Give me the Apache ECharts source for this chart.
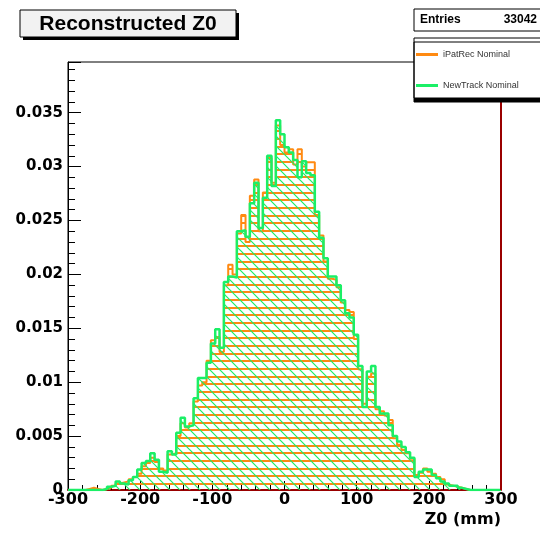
<!DOCTYPE html>
<html><head><meta charset="utf-8">
<script src="https://cdn.jsdelivr.net/npm/echarts@6/dist/echarts.min.js"></script>
<style>html,body{margin:0;padding:0;background:#fff}#c{width:540px;height:533px}</style>
</head><body><div id="c"></div>
<script>
// ---- data ----
const xMin = -300, xMax = 300, binWidth = 6;
const seriesNames = ['iPatRec Nominal', 'NewTrack Nominal'];
const iPatRecValues = [
  0,0,0,0,0.0001,0.0002,0.0001,0,0.0001,0.0002,
  0.0004,0.0006,0.0007,0.0008,0.0010,0.0012,0.0015,0.0022,0.0025,0.0030,
  0.0026,0.0020,0.0018,0.0033,0.0034,0.0050,0.0062,0.0058,0.0062,0.0082,
  0.0097,0.0100,0.0120,0.0139,0.0142,0.0128,0.0190,0.0209,0.0200,0.0238,
  0.0255,0.0230,0.0273,0.0288,0.0240,0.0276,0.0308,0.0285,0.0338,0.0320,
  0.0313,0.0316,0.0302,0.0316,0.0300,0.0304,0.0304,0.0255,0.0236,0.0212,
  0.0196,0.0195,0.0188,0.0174,0.0167,0.0165,0.0140,0.0112,0.0080,0.0105,
  0.0108,0.0075,0.0073,0.0069,0.0065,0.0048,0.0042,0.0037,0.0034,0.0029,
  0.0014,0.0016,0.0020,0.0017,0.0015,0.0012,0.0010,0.0005,0.0004,0.0003,
  0.0002,0.0001,0,0,0,0,0,0,0,0
];
const newTrackValues = [
  0,0,0,0,0,0,0,0,0.0001,0.0003,
  0.0004,0.0008,0.0006,0.0005,0.0009,0.0012,0.0019,0.0025,0.0027,0.0034,
  0.0028,0.0017,0.0016,0.0036,0.0033,0.0053,0.0067,0.0059,0.0060,0.0085,
  0.0104,0.0104,0.0118,0.0136,0.0149,0.0132,0.0193,0.0198,0.0197,0.0240,
  0.0241,0.0235,0.0266,0.0285,0.0243,0.0271,0.0310,0.0282,0.0343,0.0330,
  0.0318,0.0313,0.0306,0.0290,0.0305,0.0294,0.0292,0.0258,0.0234,0.0215,
  0.0198,0.0198,0.0190,0.0176,0.0164,0.0160,0.0144,0.0115,0.0077,0.0110,
  0.0115,0.0077,0.0071,0.0071,0.0060,0.0050,0.0045,0.0040,0.0035,0.0030,
  0.0012,0.0017,0.0019,0.0019,0.0014,0.0011,0.0008,0.0006,0.0004,0.0004,
  0.0002,0.0001,0,0,0,0,0,0,0,0
];
const entriesLabel = 'Entries';
const entriesValue = '33042';
const titleText = 'Reconstructed Z0';
const xAxisTitle = 'Z0 (mm)';
const upperEdgeMark = 300;

// ---- styles ----
const ORANGE = '#ff8a12';
const GREEN = '#1bef66';
const DARKRED = '#9a0000';

function stepData(vals) {
  const d = vals.map((v, i) => [xMin + i * binWidth, v]);
  d.push([xMax, vals[vals.length - 1]]);
  return d;
}
function hatchHorizontal(color) {
  const c = document.createElement('canvas');
  c.width = 10; c.height = 23;
  const g = c.getContext('2d');
  g.fillStyle = color;
  g.fillRect(0, 0, 10, 2);
  g.fillRect(0, 8, 10, 2);
  g.fillRect(0, 15, 10, 2);
  return c;
}
function hatchDiagonal(color) {
  const s = 10;
  const c = document.createElement('canvas');
  c.width = s; c.height = s;
  const g = c.getContext('2d');
  g.strokeStyle = color; g.lineWidth = 1.2;
  g.beginPath();
  g.moveTo(-1, -1); g.lineTo(s + 1, s + 1);
  g.moveTo(-s - 1, -1); g.lineTo(1, s + 1);
  g.moveTo(s - 1, -1); g.lineTo(2 * s + 1, s + 1);
  g.stroke();
  return c;
}

const chart = echarts.init(document.getElementById('c'), null, {renderer: 'canvas'});
const tickFont = {fontFamily: 'DejaVu Sans', fontWeight: 'bold', color: '#000'};
chart.setOption({
  animation: false,
  backgroundColor: '#fff',
  grid: {left: 68, right: 39, top: 62, bottom: 43, show: true, borderColor: '#000', borderWidth: 1, backgroundColor: 'transparent'},
  xAxis: {
    type: 'value', min: xMin, max: xMax, interval: 100,
    axisLine: {show: true, onZero: false, lineStyle: {color: DARKRED, width: 2}},
    axisTick: {inside: true, length: 9, lineStyle: {color: '#000', width: 1}},
    minorTick: {show: true, splitNumber: 5, length: 5, lineStyle: {color: '#000', width: 1}},
    splitLine: {show: false},
    axisLabel: Object.assign({fontSize: 16, margin: 2}, tickFont),
    name: xAxisTitle, nameLocation: 'end', nameGap: 0,
    nameTextStyle: Object.assign({fontSize: 16, align: 'right', verticalAlign: 'top', padding: [22, 0, 0, 0]}, tickFont)
  },
  yAxis: {
    type: 'value', min: 0, max: 0.0397, interval: 0.005,
    axisLine: {show: true, onZero: false, lineStyle: {color: '#000', width: 1}},
    axisTick: {inside: true, length: 13, lineStyle: {color: '#000', width: 1}},
    minorTick: {show: true, splitNumber: 5, length: 7, lineStyle: {color: '#000', width: 1}},
    splitLine: {show: false},
    axisLabel: Object.assign({fontSize: 15, margin: 5, showMaxLabel: false,
      formatter: v => String(+(+v).toFixed(3))}, tickFont)
  },
  legend: {
    data: seriesNames, left: 414, top: 38, orient: 'vertical',
    icon: 'rect', itemWidth: 22, itemHeight: 3, itemGap: 22,
    padding: [12, 30, 8, 2],
    backgroundColor: '#fff', borderColor: '#000', borderWidth: 1, borderRadius: 0,
    shadowColor: '#000', shadowOffsetX: 0, shadowOffsetY: 4, shadowBlur: 0,
    textStyle: {fontFamily: 'Liberation Sans', fontSize: 9, color: '#333'},
    selectedMode: false, z: 20
  },
  series: [
    {
      name: seriesNames[0], type: 'line', step: 'end', symbol: 'none', color: ORANGE,
      data: stepData(iPatRecValues),
      lineStyle: {color: ORANGE, width: 2},
      areaStyle: {color: {image: hatchHorizontal(ORANGE), repeat: 'repeat'}, opacity: 1},
      z: 2,
      markLine: {
        silent: true, symbol: 'none', label: {show: false},
        lineStyle: {color: DARKRED, width: 2, type: 'solid'},
        data: [{xAxis: upperEdgeMark}]
      }
    },
    {
      name: seriesNames[1], type: 'line', step: 'end', symbol: 'none', color: GREEN,
      data: stepData(newTrackValues),
      lineStyle: {color: GREEN, width: 2.5},
      areaStyle: {color: {image: hatchDiagonal(GREEN), repeat: 'repeat'}, opacity: 1},
      z: 3
    }
  ],
  graphic: [
    {type: 'rect', shape: {x: 23, y: 13, width: 216, height: 27}, style: {fill: '#000'}, z: 30},
    {type: 'rect', shape: {x: 20, y: 10, width: 216, height: 27}, style: {fill: '#f2f2f2', stroke: '#000', lineWidth: 1}, z: 31},
    {type: 'text', x: 128, y: 24, z: 32, style: {text: titleText, fontFamily: 'Liberation Sans', fontWeight: 'bold', fontSize: 21, fill: '#000', align: 'center', verticalAlign: 'middle'}},
    {type: 'rect', shape: {x: 414, y: 9, width: 130, height: 22}, style: {fill: '#fff', stroke: '#000', lineWidth: 1}, z: 30},
    {type: 'text', x: 420, y: 20, z: 32, style: {text: entriesLabel, fontFamily: 'Liberation Sans', fontWeight: 'bold', fontSize: 12, fill: '#000', align: 'left', verticalAlign: 'middle'}},
    {type: 'text', x: 537, y: 20, z: 32, style: {text: entriesValue, fontFamily: 'Liberation Sans', fontWeight: 'bold', fontSize: 12, fill: '#000', align: 'right', verticalAlign: 'middle'}}
  ]
});
</script>
</body></html>
